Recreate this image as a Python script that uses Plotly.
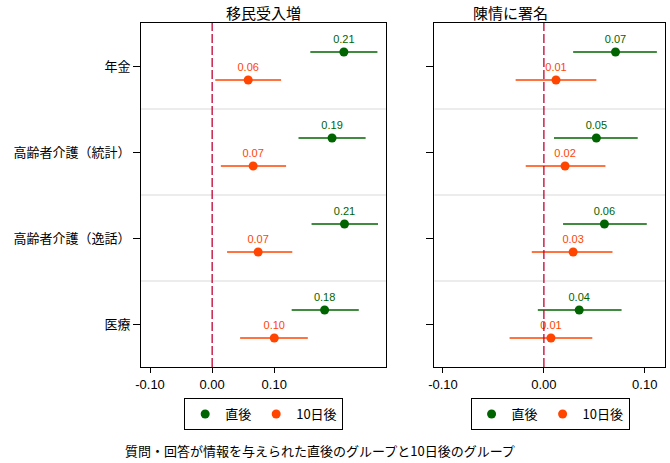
import plotly.graph_objects as go

categories = ["年金", "高齢者介護（統計）", "高齢者介護（逸話）", "医療"]
panel_titles = ["移民受入増", "陳情に署名"]
series_names = ["直後", "10日後"]

# Panel 1: 移民受入増
imm_now = [0.212, 0.193, 0.213, 0.181]
imm_now_lo = [0.158, 0.139, 0.160, 0.128]
imm_now_hi = [0.266, 0.247, 0.267, 0.236]
imm_10d = [0.058, 0.066, 0.074, 0.100]
imm_10d_lo = [0.005, 0.014, 0.024, 0.045]
imm_10d_hi = [0.111, 0.119, 0.129, 0.154]

# Panel 2: 陳情に署名
pet_now = [0.071, 0.052, 0.060, 0.035]
pet_now_lo = [0.029, 0.010, 0.019, -0.006]
pet_now_hi = [0.112, 0.093, 0.102, 0.077]
pet_10d = [0.012, 0.021, 0.029, 0.007]
pet_10d_lo = [-0.028, -0.018, -0.012, -0.034]
pet_10d_hi = [0.052, 0.061, 0.068, 0.048]

x_tickvals = [-0.1, 0.0, 0.1]
x_ticktext = ["-0.10", "0.00", "0.10"]
caption = "質問・回答が情報を与えられた直後のグループと10日後のグループ"

GREEN = "#006400"
ORANGE = "#FF4500"
JP = "Noto Sans CJK JP"
NUM = "Liberation Sans, Arial"
OFF = 0.163

fig = go.Figure()

ypos = list(range(len(categories)))

def add_series(vals, lo, hi, color, name, xa, ya, legend, sign):
    ys = [y + sign * OFF for y in ypos]
    fig.add_trace(go.Scatter(
        x=vals, y=ys, mode="markers+text",
        text=[f"{v:.2f}" for v in vals], textposition="top center",
        textfont=dict(family=NUM, size=11, color=color),
        marker=dict(color=color, size=9),
        error_x=dict(type="data", symmetric=False,
                     array=[h - v for h, v in zip(hi, vals)],
                     arrayminus=[v - l for v, l in zip(vals, lo)],
                     color=color, thickness=1.5, width=0),
        name=name, xaxis=xa, yaxis=ya, legend=legend, cliponaxis=False,
    ))

add_series(imm_now, imm_now_lo, imm_now_hi, GREEN, series_names[0], "x", "y", "legend", -1)
add_series(imm_10d, imm_10d_lo, imm_10d_hi, ORANGE, series_names[1], "x", "y", "legend", 1)
add_series(pet_now, pet_now_lo, pet_now_hi, GREEN, series_names[0], "x2", "y2", "legend2", -1)
add_series(pet_10d, pet_10d_lo, pet_10d_hi, ORANGE, series_names[1], "x2", "y2", "legend2", 1)

shapes = []
for xr, yr in [("x", "y"), ("x2", "y2")]:
    for b in [0.5, 1.5, 2.5]:
        shapes.append(dict(type="line", xref=f"{xr} domain", yref=yr, x0=0, x1=1, y0=b, y1=b,
                           line=dict(color="#D9D9D9", width=1), layer="below"))
    shapes.append(dict(type="line", xref=xr, yref=f"{yr} domain", x0=0, x1=0, y0=0, y1=1,
                       line=dict(color="#C00030", width=1.3, dash="9px,3px")))

ydom = [1 - 367 / 463, 1 - 23 / 463]
axis_common = dict(showline=True, linecolor="black", linewidth=1, mirror=True,
                   showgrid=False, zeroline=False, ticks="outside", tickcolor="black")

fig.update_layout(
    width=670, height=463, margin=dict(l=0, r=0, t=0, b=0),
    paper_bgcolor="white", plot_bgcolor="white",
    xaxis=dict(domain=[136.3 / 670, 383.3 / 670], range=[-0.1144, 0.2796],
               tickvals=x_tickvals, ticktext=x_ticktext, ticklen=5,
               tickfont=dict(family=NUM, size=13, color="black"), **axis_common),
    xaxis2=dict(domain=[432.3 / 670, 665 / 670], range=[-0.1085, 0.1201],
                tickvals=x_tickvals, ticktext=x_ticktext, ticklen=5,
                tickfont=dict(family=NUM, size=13, color="black"), **axis_common),
    yaxis=dict(domain=ydom, range=[3.5, -0.5], tickvals=ypos, ticktext=categories,
               ticklen=7, tickfont=dict(family=JP, size=13, color="black"),
               anchor="x", **axis_common),
    yaxis2=dict(domain=ydom, range=[3.5, -0.5], tickvals=ypos, showticklabels=False,
                ticklen=7, anchor="x2", **axis_common),
    legend=dict(orientation="h", x=260 / 670, xanchor="center", y=1 - 398 / 463, yanchor="top",
                bordercolor="black", borderwidth=1, font=dict(family=JP, size=13, color="black"),
                itemwidth=30),
    legend2=dict(orientation="h", x=549 / 670, xanchor="center", y=1 - 398 / 463, yanchor="top",
                 bordercolor="black", borderwidth=1, font=dict(family=JP, size=13, color="black"),
                 itemwidth=30),
    shapes=shapes,
    annotations=[
        dict(text=panel_titles[0], xref="paper", yref="paper", x=260 / 670, y=1 - 12.5 / 463,
             showarrow=False, font=dict(family=JP, size=15, color="black"), yanchor="middle"),
        dict(text=panel_titles[1], xref="paper", yref="paper", x=549 / 670, y=1 - 12.5 / 463,
             showarrow=False, font=dict(family=JP, size=15, color="black"), yanchor="middle"),
        dict(text=caption, xref="paper", yref="paper", x=317 / 670, y=1 - 450 / 463,
             showarrow=False, font=dict(family=JP, size=13, color="black"), yanchor="middle"),
    ],
)

fig.write_html("out.html", config={"displayModeBar": False},
               post_script="document.body.style.margin='0';document.body.style.overflow='hidden';")
